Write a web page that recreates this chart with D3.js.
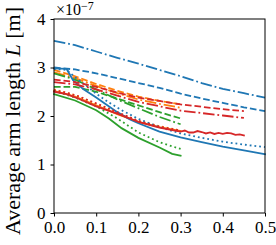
<!DOCTYPE html>
<html><head><meta charset="utf-8">
<script src="https://cdn.jsdelivr.net/npm/d3@7"></script>
<style>
html,body{margin:0;padding:0;background:#fff;}
svg text{font-family:"Liberation Serif","DejaVu Serif",serif;}
</style></head>
<body><svg id="c" width="276" height="245"></svg>
<script>
// values in units of 1e-7 m
const xTicks = [0.0, 0.1, 0.2, 0.3, 0.4, 0.5];
const yTicks = [0, 1, 2, 3, 4];

const blueDashDot = [[0,3.55],[0.05,3.46],[0.1,3.33],[0.15,3.2],[0.2,3.08],[0.25,2.95],[0.3,2.82],[0.35,2.68],[0.4,2.56],[0.45,2.47],[0.5,2.38]];
const blueDashed  = [[0,3.0],[0.05,2.96],[0.1,2.88],[0.15,2.78],[0.2,2.68],[0.25,2.58],[0.3,2.46],[0.35,2.36],[0.4,2.27],[0.45,2.18],[0.5,2.1]];
const blueSolid   = [[0,2.98],[0.03,2.97],[0.045,2.74],[0.07,2.55],[0.1,2.38],[0.15,2.08],[0.18,1.93],[0.2,1.85],[0.25,1.68],[0.3,1.56],[0.35,1.46],[0.4,1.37],[0.45,1.29],[0.5,1.21]];
const blueDotted  = [[0,2.97],[0.03,2.95],[0.05,2.8],[0.08,2.6],[0.1,2.46],[0.13,2.28],[0.16,2.12],[0.2,1.94],[0.25,1.77],[0.3,1.64],[0.35,1.55],[0.4,1.47],[0.45,1.41],[0.5,1.36]];

const orangeDashed  = [[0,2.95],[0.05,2.82],[0.1,2.66],[0.15,2.52],[0.2,2.4],[0.25,2.31],[0.3,2.24]];
const orangeDashDot = [[0,2.9],[0.05,2.78],[0.1,2.62],[0.15,2.47],[0.2,2.34],[0.25,2.25],[0.3,2.17]];
const orangeSolid   = [[0,2.52],[0.05,2.4],[0.1,2.22],[0.15,2.04],[0.2,1.88],[0.25,1.77],[0.3,1.69]];
const orangeDotted  = [[0,2.55],[0.05,2.43],[0.1,2.25],[0.15,2.07],[0.2,1.9],[0.25,1.79],[0.3,1.7]];

const greenDashDot = [[0,2.88],[0.05,2.75],[0.1,2.55],[0.15,2.34],[0.2,2.16],[0.25,1.98],[0.3,1.83]];
const greenDashed  = [[0,2.6],[0.05,2.6],[0.1,2.5],[0.15,2.36],[0.2,2.22],[0.25,2.08],[0.3,1.95]];
const greenDotted  = [[0,2.52],[0.05,2.38],[0.1,2.2],[0.15,1.95],[0.2,1.66],[0.25,1.46],[0.3,1.32]];
const greenSolid   = [[0,2.45],[0.05,2.32],[0.1,2.12],[0.13,1.95],[0.16,1.75],[0.2,1.55],[0.25,1.35],[0.28,1.22],[0.3,1.18]];

const redDashed  = [[0,2.75],[0.05,2.7],[0.1,2.6],[0.15,2.48],[0.2,2.38],[0.25,2.31],[0.3,2.24],[0.35,2.19],[0.4,2.14],[0.45,2.1]];
const redDashDot = [[0,2.7],[0.05,2.65],[0.1,2.55],[0.15,2.42],[0.2,2.29],[0.25,2.2],[0.3,2.11],[0.35,2.06],[0.4,2.01],[0.45,1.96]];
const redDotted  = [[0,2.53],[0.03,2.48],[0.06,2.4],[0.1,2.26],[0.15,2.08],[0.2,1.9],[0.25,1.78],[0.3,1.7]];
const redSolid   = [[0,2.5],[0.03,2.45],[0.06,2.35],[0.1,2.2],[0.15,2.05],[0.2,1.88],[0.25,1.76],[0.28,1.71],[0.3,1.68],[0.31,1.7],[0.32,1.66],[0.33,1.66],[0.34,1.69],[0.35,1.67],[0.36,1.64],[0.37,1.66],[0.38,1.63],[0.39,1.65],[0.4,1.63],[0.41,1.65],[0.42,1.64],[0.43,1.61],[0.44,1.62],[0.45,1.6]];

const C = {blue:"#1f77b4", orange:"#ff7f0e", green:"#2ca02c", red:"#d62728"};
const series = [
  {d:orangeDashed,c:"orange",s:"dashed"},{d:orangeDashDot,c:"orange",s:"dashdot"},
  {d:orangeSolid,c:"orange",s:"solid"},{d:orangeDotted,c:"orange",s:"dotted"},
  {d:greenDashDot,c:"green",s:"dashdot"},{d:greenDashed,c:"green",s:"dashed"},
  {d:greenDotted,c:"green",s:"dotted"},{d:greenSolid,c:"green",s:"solid"},
  {d:blueDashDot,c:"blue",s:"dashdot"},{d:blueDashed,c:"blue",s:"dashed"},
  {d:blueSolid,c:"blue",s:"solid"},{d:blueDotted,c:"blue",s:"dotted"},
  {d:redDashed,c:"red",s:"dashed"},{d:redDashDot,c:"red",s:"dashdot"},
  {d:redDotted,c:"red",s:"dotted"},{d:redSolid,c:"red",s:"solid"}
];
const lw = 1.8;
const dash = {solid:null, dashed:[3.7*lw,1.6*lw].join(","), dashdot:[6.4*lw,1.6*lw,1*lw,1.6*lw].join(","), dotted:[1*lw,1.65*lw].join(",")};

const m = {l:54, r:265, t:19, b:213};
const x = d3.scaleLinear().domain([0,0.5]).range([m.l,m.r]);
const y = d3.scaleLinear().domain([0,4]).range([m.b,m.t]);
const svg = d3.select("#c");

const g = svg.append("g");
const line = d3.line().x(d=>x(d[0])).y(d=>y(d[1]));
series.forEach(s=>{
  g.append("path").attr("d",line(s.d)).attr("fill","none")
   .attr("stroke",C[s.c]).attr("stroke-width",lw)
   .attr("stroke-dasharray",dash[s.s]).attr("stroke-linecap", s.s==="solid"?"square":"butt");
});

// frame
svg.append("rect").attr("x",m.l).attr("y",m.t).attr("width",m.r-m.l).attr("height",m.b-m.t)
  .attr("fill","none").attr("stroke","#000").attr("stroke-width",1);

const xAxis = svg.append("g").attr("transform",`translate(0,${m.b})`)
  .call(d3.axisBottom(x).tickValues(xTicks).tickFormat(d3.format(".1f")).tickSize(3.5).tickPadding(4));
const yAxis = svg.append("g").attr("transform",`translate(${m.l},0)`)
  .call(d3.axisLeft(y).tickValues(yTicks).tickFormat(d3.format("d")).tickSize(3.5).tickPadding(5));
[xAxis,yAxis].forEach(a=>{
  a.select(".domain").remove();
  a.selectAll("line").attr("stroke","#000").attr("stroke-width",1);
  a.selectAll("text").attr("font-family","Liberation Serif, serif").attr("font-size",17).attr("fill","#000");
});
yAxis.selectAll("text").attr("dy","0.3em");

// offset text
const off = svg.append("text").attr("x",56).attr("y",15).attr("font-size",16).attr("fill","#000");
off.append("tspan").text("×10");
off.append("tspan").attr("dy",-5).attr("font-size",12).text("−7");

// y label
const yl = svg.append("text").attr("transform",`translate(20,121) rotate(-90)`)
  .attr("text-anchor","middle").attr("font-size",22).attr("fill","#000");
yl.append("tspan").text("Average arm length ");
yl.append("tspan").attr("font-style","italic").text("L");
yl.append("tspan").text(" [m]");
</script></body></html>
